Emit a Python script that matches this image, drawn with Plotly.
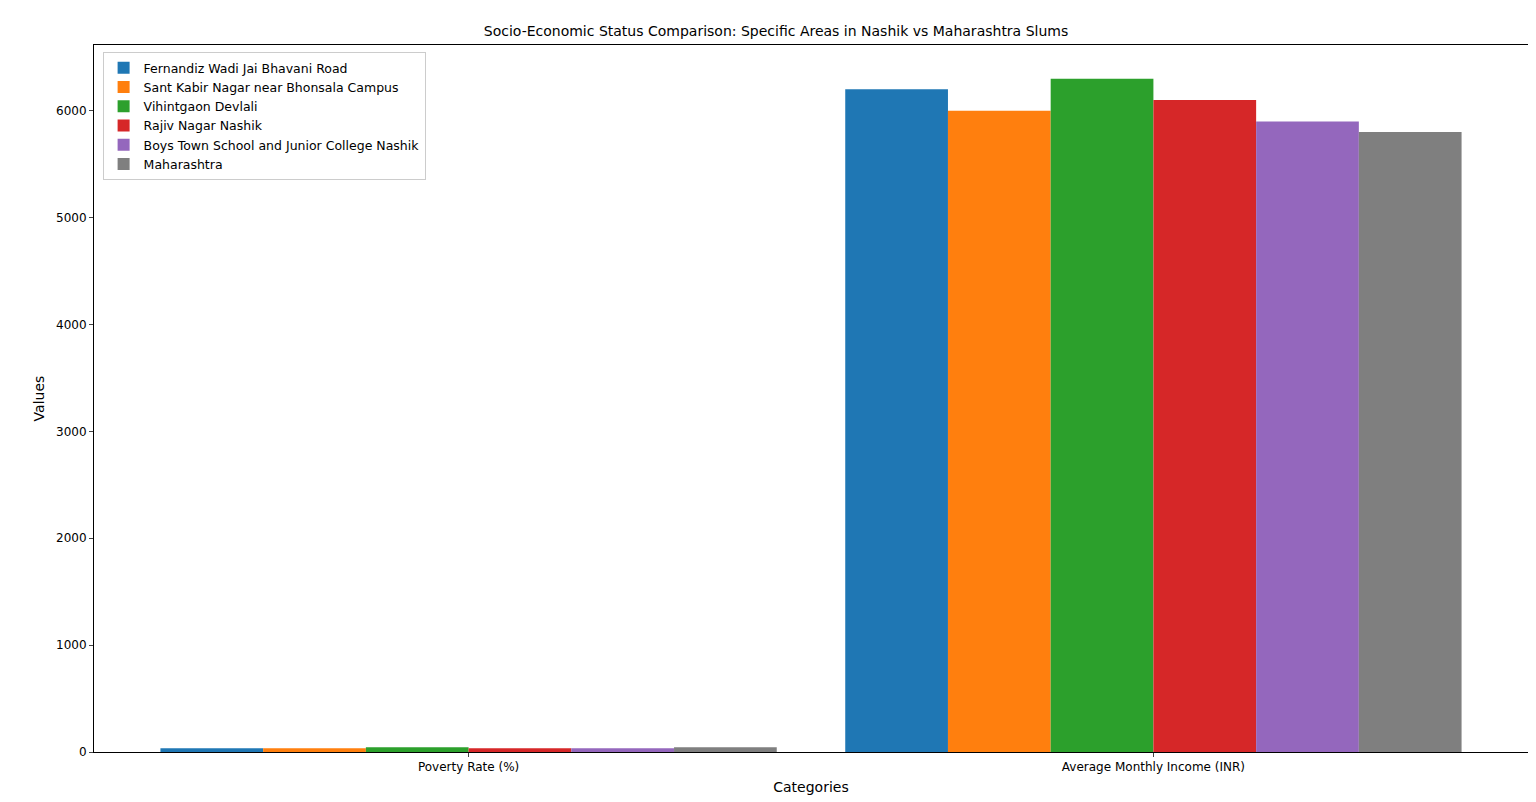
import plotly.graph_objects as go

categories = ["Poverty Rate (%)", "Average Monthly Income (INR)"]
areas = ["Fernandiz Wadi Jai Bhavani Road", "Sant Kabir Nagar near Bhonsala Campus",
         "Vihintgaon Devlali", "Rajiv Nagar Nashik",
         "Boys Town School and Junior College Nashik", "Maharashtra"]
poverty = [35, 35, 45, 35, 35, 45]
income = [6200, 6000, 6300, 6100, 5900, 5800]
colors = ["#1f77b4", "#ff7f0e", "#2ca02c", "#d62728", "#9467bd", "#7f7f7f"]

fig = go.Figure()
for i, name in enumerate(areas):
    fig.add_trace(go.Bar(x=categories, y=[poverty[i], income[i]], name=name,
                         marker=dict(color=colors[i], line_width=0)))

fig.update_layout(
    width=1536, height=802, barmode="group", bargap=0.1, bargroupgap=0,
    plot_bgcolor="white", paper_bgcolor="white",
    font=dict(family="DejaVu Sans", size=12, color="black"),
    margin=dict(l=86, r=16, t=37, b=58),
    title=dict(text="Socio-Economic Status Comparison: Specific Areas in Nashik vs Maharashtra Slums",
               x=0.5, xanchor="center", y=0.977, font=dict(size=14)),
    legend=dict(x=0.006, y=0.99, xanchor="left", yanchor="top", bordercolor="#ccc",
                borderwidth=1, font=dict(size=12.5), tracegroupgap=0),
    xaxis=dict(title=dict(text="Categories", standoff=8), range=[-0.547, 1.547],
               showline=True, linecolor="black", mirror=True, ticks="outside",
               ticklen=4),
    yaxis=dict(title=dict(text="Values", standoff=8), range=[0, 6615], dtick=1000,
               showgrid=False, showline=True, linecolor="black", mirror=True,
               ticks="outside", ticklen=4, zeroline=False),
)
fig.write_html("out.html")
